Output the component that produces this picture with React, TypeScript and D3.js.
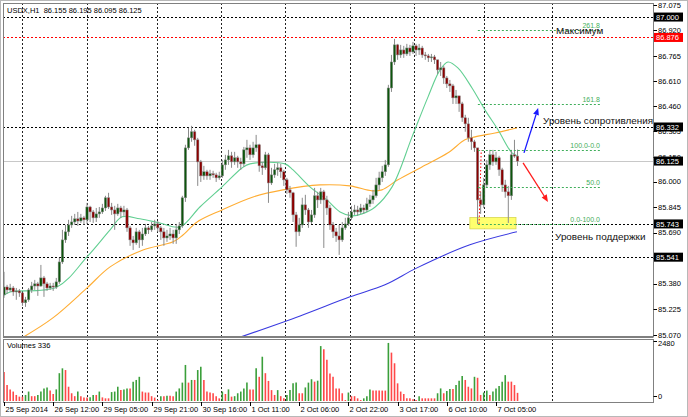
import * as d3 from "d3";

const W = 688;
const H = 417;

// USDX H1 bars
const firstOpen = 85.312;
const closes = [
  85.360, 85.342, 85.354, 85.330, 85.336, 85.324, 85.264, 85.282, 85.342, 85.366,
  85.379, 85.366, 85.415, 85.379, 85.354, 85.366, 85.360, 85.391, 85.512, 85.646,
  85.695, 85.737, 85.755, 85.774, 85.761, 85.780, 85.768, 85.846, 85.816, 85.780,
  85.804, 85.816, 85.840, 85.902, 85.846, 85.828, 85.804, 85.840, 85.816, 85.828,
  85.719, 85.646, 85.628, 85.695, 85.646, 85.682, 85.719, 85.707, 85.731, 85.743,
  85.719, 85.695, 85.658, 85.670, 85.682, 85.658, 85.707, 85.731, 85.902, 86.205,
  86.266, 86.303, 86.254, 86.120, 86.035, 86.060, 86.035, 86.048, 86.041, 86.023,
  86.035, 86.102, 86.132, 86.157, 86.120, 86.145, 86.120, 86.108, 86.193, 86.205,
  86.163, 86.205, 86.224, 86.096, 86.084, 86.163, 85.992, 86.041, 86.072, 86.084,
  86.060, 86.011, 85.950, 85.932, 85.798, 85.695, 85.737, 85.859, 85.828, 85.755,
  85.798, 85.914, 85.889, 85.938, 85.889, 85.840, 85.737, 85.695, 85.670, 85.646,
  85.719, 85.743, 85.780, 85.816, 85.828, 85.816, 85.840, 85.828, 85.865, 85.889,
  85.914, 85.980, 86.023, 86.060, 86.102, 86.569, 86.727, 86.831, 86.770, 86.800,
  86.776, 86.812, 86.788, 86.825, 86.800, 86.812, 86.770, 86.764, 86.752, 86.758,
  86.740, 86.679, 86.691, 86.630, 86.594, 86.582, 86.509, 86.521, 86.473, 86.388,
  86.351, 86.266, 86.242, 86.205, 85.889, 85.859, 85.980, 86.102, 86.163, 86.120,
  86.145, 86.072, 85.980, 85.938, 85.914, 86.163, 86.155, 86.125,
];
const highs = [
  85.452, 85.373, 85.379, 85.366, 85.354, 85.348, 85.324, 85.300, 85.354, 85.391,
  85.403, 85.391, 85.494, 85.427, 85.391, 85.385, 85.385, 85.415, 85.537, 85.707,
  85.737, 85.768, 85.792, 85.804, 85.816, 85.804, 85.792, 85.871, 85.853, 85.828,
  85.840, 85.846, 85.865, 85.914, 85.932, 85.871, 85.853, 85.865, 85.853, 85.853,
  85.840, 85.731, 85.670, 85.719, 85.707, 85.719, 85.743, 85.731, 85.755, 85.768,
  85.761, 85.731, 85.719, 85.707, 85.719, 85.707, 85.743, 85.755, 85.914, 86.224,
  86.327, 86.339, 86.315, 86.266, 86.132, 86.096, 86.072, 86.072, 86.066, 86.054,
  86.060, 86.132, 86.163, 86.193, 86.181, 86.181, 86.157, 86.145, 86.211, 86.254,
  86.224, 86.242, 86.284, 86.230, 86.120, 86.181, 86.175, 86.084, 86.108, 86.114,
  86.108, 86.072, 86.023, 85.974, 85.938, 85.816, 85.780, 85.902, 85.920, 85.840,
  85.828, 85.962, 85.938, 85.962, 85.950, 85.914, 85.859, 85.755, 85.719, 85.737,
  85.755, 85.780, 85.816, 85.853, 85.859, 85.853, 85.865, 85.859, 85.902, 85.920,
  85.950, 86.023, 86.060, 86.096, 86.132, 86.588, 86.770, 86.867, 86.837, 86.831,
  86.825, 86.837, 86.831, 86.849, 86.837, 86.837, 86.825, 86.788, 86.776, 86.776,
  86.770, 86.740, 86.727, 86.703, 86.642, 86.618, 86.594, 86.557, 86.521, 86.485,
  86.406, 86.388, 86.315, 86.254, 86.205, 85.938, 86.023, 86.132, 86.193, 86.193,
  86.181, 86.157, 86.084, 86.011, 85.974, 86.193, 86.254, 86.195,
];
const lows = [
  85.294, 85.318, 85.330, 85.306, 85.282, 85.300, 85.245, 85.239, 85.270, 85.324,
  85.342, 85.306, 85.360, 85.300, 85.336, 85.342, 85.336, 85.348, 85.379, 85.500,
  85.628, 85.670, 85.719, 85.737, 85.731, 85.749, 85.737, 85.743, 85.755, 85.749,
  85.755, 85.780, 85.804, 85.822, 85.834, 85.798, 85.707, 85.792, 85.780, 85.792,
  85.695, 85.610, 85.585, 85.616, 85.597, 85.610, 85.670, 85.682, 85.695, 85.707,
  85.695, 85.646, 85.610, 85.634, 85.646, 85.622, 85.622, 85.682, 85.719, 85.877,
  86.193, 86.242, 86.218, 85.974, 85.998, 86.011, 86.011, 86.011, 86.023, 85.998,
  86.011, 86.023, 86.072, 86.102, 86.084, 86.102, 86.084, 86.072, 86.090, 86.145,
  86.132, 86.145, 86.181, 86.060, 86.041, 86.072, 85.871, 85.980, 86.023, 86.035,
  86.023, 85.974, 85.926, 85.902, 85.755, 85.604, 85.670, 85.719, 85.798, 85.719,
  85.743, 85.780, 85.840, 85.865, 85.597, 85.798, 85.707, 85.658, 85.634, 85.555,
  85.634, 85.707, 85.731, 85.768, 85.798, 85.792, 85.804, 85.804, 85.816, 85.846,
  85.865, 85.902, 85.950, 85.998, 86.035, 86.090, 86.545, 86.709, 86.740, 86.752,
  86.752, 86.764, 86.764, 86.776, 86.764, 86.770, 86.752, 86.740, 86.727, 86.727,
  86.715, 86.654, 86.642, 86.594, 86.569, 86.545, 86.472, 86.472, 86.424, 86.363,
  86.303, 86.242, 86.193, 86.181, 85.743, 85.804, 85.840, 85.962, 86.072, 86.096,
  86.102, 86.035, 85.938, 85.902, 85.749, 85.889, 86.145, 86.095,
];
const volumes = [
  1200, 660, 480, 390, 250, 180, 180, 250, 390, 200,
  200, 250, 390, 520, 560, 430, 290, 480, 1150, 1350,
  1280, 590, 320, 200, 390, 200, 140, 140, 150, 250,
  250, 390, 150, 110, 110, 370, 390, 590, 450, 480,
  520, 520, 800, 870, 1000, 390, 350, 350, 200, 140,
  40, 200, 200, 220, 220, 200, 390, 520, 760, 1490,
  760, 870, 870, 1280, 1420, 870, 390, 350, 320, 200,
  110, 390, 290, 480, 180, 200, 320, 390, 520, 760,
  480, 480, 1350, 1000, 1830, 1150, 830, 450, 250, 450,
  200, 110, 250, 450, 730, 760, 320, 320, 560, 760,
  900, 800, 840, 2270, 2135, 1700, 1140, 1000, 520, 520,
  320, 40, 350, 200, 200, 110, 40, 110, 200, 480,
  430, 430, 430, 430, 430, 2400, 2000, 1560, 730, 390,
  290, 110, 110, 70, 40, 200, 110, 110, 110, 110,
  110, 320, 520, 320, 410, 500, 500, 660, 840, 1030,
  870, 590, 520, 1000, 960, 250, 350, 430, 250, 390,
  520, 620, 800, 1070, 800, 800, 660, 336,
];

const priceTicks = [87.075, 86.92, 86.765, 86.61, 86.46, 86.305, 86.15, 86.0, 85.845, 85.69, 85.535, 85.38, 85.225, 85.07];
const timeLabels = [
  "25 Sep 2014", "26 Sep 12:00", "29 Sep 05:00", "29 Sep 21:00", "30 Sep 16:00", "1 Oct 11:00",
  "2 Oct 06:00", "2 Oct 22:00", "3 Oct 17:00", "6 Oct 10:00", "7 Oct 05:00",
];
const barsPerLabel = 16;
// day separators, in bar units
const dayBreaks = [5.85, 27, 49.8, 70.6, 91.4, 112.5, 133.3, 156.1, 178.2];

// moving averages [bar, price]
const maFast: [number, number][] = [
  [0, 85.31], [2, 85.33], [17.2, 85.36], [27, 85.543], [34.5, 85.707], [38.4, 85.786], [44.2, 85.774],
  [50.7, 85.749], [57.2, 85.725], [63.7, 85.846], [70.9, 85.968], [77.4, 86.083], [80, 86.108],
  [91.4, 86.108], [94, 86.071], [99.5, 85.968], [105, 85.889], [109.3, 85.816], [113.2, 85.792],
  [116.4, 85.804], [120.7, 85.846], [126.2, 85.968], [132.7, 86.272], [137.9, 86.515], [141.8, 86.679],
  [144.4, 86.727], [147.6, 86.691], [152.2, 86.569], [156.4, 86.436], [160.7, 86.314], [165.2, 86.175],
  [167.2, 86.156],
];
const maMid: [number, number][] = [
  [5.9, 85.051], [15.9, 85.172], [27, 85.354], [34.5, 85.482], [45.2, 85.585], [55, 85.634],
  [58.2, 85.676], [62.8, 85.755], [70.9, 85.828], [81, 85.907], [90.7, 85.95], [102.8, 85.98],
  [112.5, 85.974], [119.7, 85.944], [122.9, 85.95], [128.1, 86.011], [135.9, 86.089], [144.4, 86.175],
  [149.9, 86.254], [153.2, 86.272], [159.7, 86.296], [166.8, 86.326],
];
const maSlow: [number, number][] = [
  [77.1, 85.057], [96.3, 85.184], [112.5, 85.3], [123.9, 85.373], [134.3, 85.476], [151.5, 85.616],
  [166.8, 85.695],
];

const hLines = [
  { price: 87.0, color: "#000", dash: "2,2" },
  { price: 86.876, color: "#ff0000", dash: "2,2" },
  { price: 86.332, color: "#000", dash: "2,2" },
  { price: 85.743, color: "#000", dash: "2,2" },
  { price: 85.541, color: "#000", dash: "2,2" },
];
const priceBoxes = [
  { price: 87.0, label: "87.000", bg: "#000" },
  { price: 86.876, label: "86.876", bg: "#ff0000" },
  { price: 86.332, label: "86.332", bg: "#000" },
  { price: 86.125, label: "86.125", bg: "#000" },
  { price: 85.743, label: "85.743", bg: "#000" },
  { price: 85.541, label: "85.541", bg: "#000" },
];
const bidPrice = 86.125;

const fiboFrom = 85.743;
const fiboTo = 86.192;
const fiboLevels = [0, 50, 100, 161.8, 261.8];
const fiboLabels = ["0.0-100.0", "50.0", "100.0-0.0", "161.8", "261.8"];
const fiboStart = 154.1;
const fiboEnd = 193.8;

const zone = { i0: 151.5, i1: 166.5, p0: 85.713, p1: 85.782 };
const arrows = [
  { from: [169.1, 86.175], to: [173.7, 86.448], color: "#1a1aff" },
  { from: [168.8, 86.114], to: [176.9, 85.877], color: "#ff1a1a" },
];
const notes = [
  { text: "Максимум", i: 179.5, p: 86.897 },
  { text: "Уровень сопротивления", i: 175.3, p: 86.351 },
  { text: "Уровень поддержки", i: 179.2, p: 85.646 },
];

const x = d3.scaleLinear().domain([0, 210.5]).range([4, 651.3]);
const y = d3.scaleLinear().domain([85.07, 87.075]).range([334.7, 4.7]);
const yv = d3.scaleLinear().domain([0, 2480]).range([401, 341]);

const L = 3, R = 653, T = 3, B = 337, VT = 339, VB = 402;
const font = "'Liberation Sans', Arial, sans-serif";

const maLine = d3
  .line<[number, number]>()
  .x((d) => x(d[0]))
  .y((d) => y(d[1]))
  .curve(d3.curveCatmullRom.alpha(0.5));

function Arrow({ a }: { a: (typeof arrows)[number] }) {
  const x1 = x(a.from[0]), y1 = y(a.from[1]);
  const x2 = x(a.to[0]), y2 = y(a.to[1]);
  const ang = Math.atan2(y2 - y1, x2 - x1);
  const len = 7, half = 3;
  const bx = x2 - len * Math.cos(ang), by = y2 - len * Math.sin(ang);
  const px = -Math.sin(ang) * half, py = Math.cos(ang) * half;
  return (
    <g>
      <line x1={x1} y1={y1} x2={bx} y2={by} stroke={a.color} strokeWidth={1.3} />
      <polygon points={`${x2},${y2} ${bx + px},${by + py} ${bx - px},${by - py}`} fill={a.color} />
    </g>
  );
}

export default function App() {
  const bars = closes.map((c, i) => ({
    i,
    o: i === 0 ? firstOpen : closes[i - 1],
    c,
    h: highs[i],
    l: lows[i],
  }));
  const fiboRange = fiboTo - fiboFrom;

  return (
    <div style={{ position: "absolute", left: 0, top: 0 }}>
      <svg width={W} height={H} style={{ display: "block", background: "#fff" }} fontFamily={font}>
        <defs>
          <clipPath id="main">
            <rect x={L} y={T} width={R - L} height={B - T} />
          </clipPath>
          <clipPath id="vol">
            <rect x={L} y={VT} width={R - L} height={VB - VT} />
          </clipPath>
        </defs>
        <rect x={0.5} y={0.5} width={W - 1} height={H - 1} fill="#fff" stroke="#b8b8b8" />

        {/* day separators */}
        {dayBreaks.map((d) => (
          <g key={d}>
            <line x1={Math.round(x(d)) + 0.5} x2={Math.round(x(d)) + 0.5} y1={T} y2={B} stroke="#222" strokeDasharray="2,2" />
            <line x1={Math.round(x(d)) + 0.5} x2={Math.round(x(d)) + 0.5} y1={VT} y2={VB} stroke="#222" strokeDasharray="2,2" />
          </g>
        ))}

        <g clipPath="url(#main)">
          {hLines.map((h) => (
            <line key={h.price} x1={L} x2={R} y1={Math.round(y(h.price)) + 0.5} y2={Math.round(y(h.price)) + 0.5} stroke={h.color} strokeDasharray={h.dash} />
          ))}
          <line x1={L} x2={R} y1={Math.round(y(bidPrice)) + 0.5} y2={Math.round(y(bidPrice)) + 0.5} stroke="#c8c8c8" />

          <rect
            x={x(zone.i0)}
            y={y(zone.p1)}
            width={x(zone.i1) - x(zone.i0)}
            height={y(zone.p0) - y(zone.p1)}
            fill="#ffff6e"
            stroke="#d8d850"
            strokeWidth={0.8}
          />

          <path d={maLine(maSlow) || ""} fill="none" stroke="#3a3ae0" strokeWidth={1.1} />
          <path d={maLine(maMid) || ""} fill="none" stroke="#ffad33" strokeWidth={1.1} />
          <path d={maLine(maFast) || ""} fill="none" stroke="#62cf92" strokeWidth={1.1} />

          {bars.map((b) => {
            const cx = x(b.i);
            const top = y(Math.max(b.o, b.c));
            const bot = y(Math.min(b.o, b.c));
            const up = b.c >= b.o;
            return (
              <g key={b.i}>
                <line x1={cx} x2={cx} y1={y(Math.max(b.h, b.o, b.c))} y2={y(Math.min(b.l, b.o, b.c))} stroke="#8a8a8a" strokeWidth={1} />
                <rect
                  x={cx - 1.2}
                  y={top}
                  width={2.4}
                  height={Math.max(1, bot - top)}
                  fill={up ? "#0c560c" : "#8c0000"}
                  stroke="#8a8a8a"
                  strokeWidth={0.5}
                />
              </g>
            );
          })}

          {/* fibonacci */}
          <line
            x1={x(fiboStart + 0.4)}
            y1={y(fiboFrom)}
            x2={x(fiboStart + 1.1)}
            y2={y(fiboTo)}
            stroke="#ff0000"
            strokeDasharray="1.5,2"
          />
          {fiboLevels.map((lv, k) => {
            const py = Math.round(y(fiboFrom + (fiboRange * lv) / 100)) + 0.5;
            return (
              <g key={lv}>
                <line x1={x(fiboStart)} x2={x(fiboEnd)} y1={py} y2={py} stroke="#3fae5a" strokeDasharray="2,2" />
                <text x={x(fiboEnd)} y={py - 2.5} fontSize={7} fill="#3fae5a" textAnchor="end">
                  {fiboLabels[k]}
                </text>
              </g>
            );
          })}

          {arrows.map((a, k) => (
            <Arrow key={k} a={a} />
          ))}
        </g>

        {notes.map((n) => (
          <text key={n.text} x={x(n.i)} y={y(n.p)} fontSize={9.9} fill="#111">
            {n.text}
          </text>
        ))}

        <text x={7} y={12.5} fontSize={7.5} fill="#000" style={{ whiteSpace: "pre" }}>
          {"USDX,H1  86.155 86.195 86.095 86.125"}
        </text>

        {/* volumes */}
        <g clipPath="url(#vol)">
          {volumes.map((v, i) => (
            <line
              key={i}
              x1={x(i)}
              x2={x(i)}
              y1={yv(0)}
              y2={yv(v)}
              stroke={i > 0 && v > volumes[i - 1] ? "#3a9f3a" : "#ff4848"}
              strokeWidth={1.6}
            />
          ))}
        </g>
        <text x={7} y={348} fontSize={7.5} fill="#000">
          Volumes 336
        </text>

        {/* frames */}
        <rect x={L + 0.5} y={T + 0.5} width={R - L} height={B - T - 1} fill="none" stroke="#808080" />
        <line x1={L} x2={R + 0.5} y1={B + 0.5} y2={B + 0.5} stroke="#808080" />
        <rect x={L + 0.5} y={VT + 0.5} width={R - L} height={VB - VT} fill="none" stroke="#808080" />

        {/* price axis */}
        {priceTicks.map((p) => (
          <g key={p}>
            <line x1={R + 0.5} x2={R + 4} y1={Math.round(y(p)) + 0.5} y2={Math.round(y(p)) + 0.5} stroke="#000" />
            <text x={R + 5} y={y(p) + 2.8} fontSize={7.5} fill="#000">
              {p.toFixed(3)}
            </text>
          </g>
        ))}
        {priceBoxes.map((b) => (
          <g key={b.label}>
            <rect x={R + 1} y={y(b.price) - 4.5} width={29} height={9} fill={b.bg} />
            <text x={R + 3} y={y(b.price) + 2.8} fontSize={7.5} fill="#fff">
              {b.label}
            </text>
          </g>
        ))}
        <line x1={R + 0.5} x2={R + 4} y1={yv(2480) + 0.5} y2={yv(2480) + 0.5} stroke="#000" />
        <text x={R + 5} y={yv(2480) + 5} fontSize={7.5} fill="#000">
          2480
        </text>
        <line x1={R + 0.5} x2={R + 4} y1={yv(0) - 4.5} y2={yv(0) - 4.5} stroke="#000" />
        <text x={R + 5} y={yv(0) - 2} fontSize={7.5} fill="#000">
          0
        </text>

        {/* time axis */}
        {timeLabels.map((t, k) => {
          const tx = Math.round(x(k * barsPerLabel)) + 0.5;
          return (
            <g key={t}>
              <line x1={tx} x2={tx} y1={VB} y2={VB + 4} stroke="#000" />
              <text x={tx + 1} y={412} fontSize={7.5} fill="#000">
                {t}
              </text>
            </g>
          );
        })}
      </svg>
    </div>
  );
}
